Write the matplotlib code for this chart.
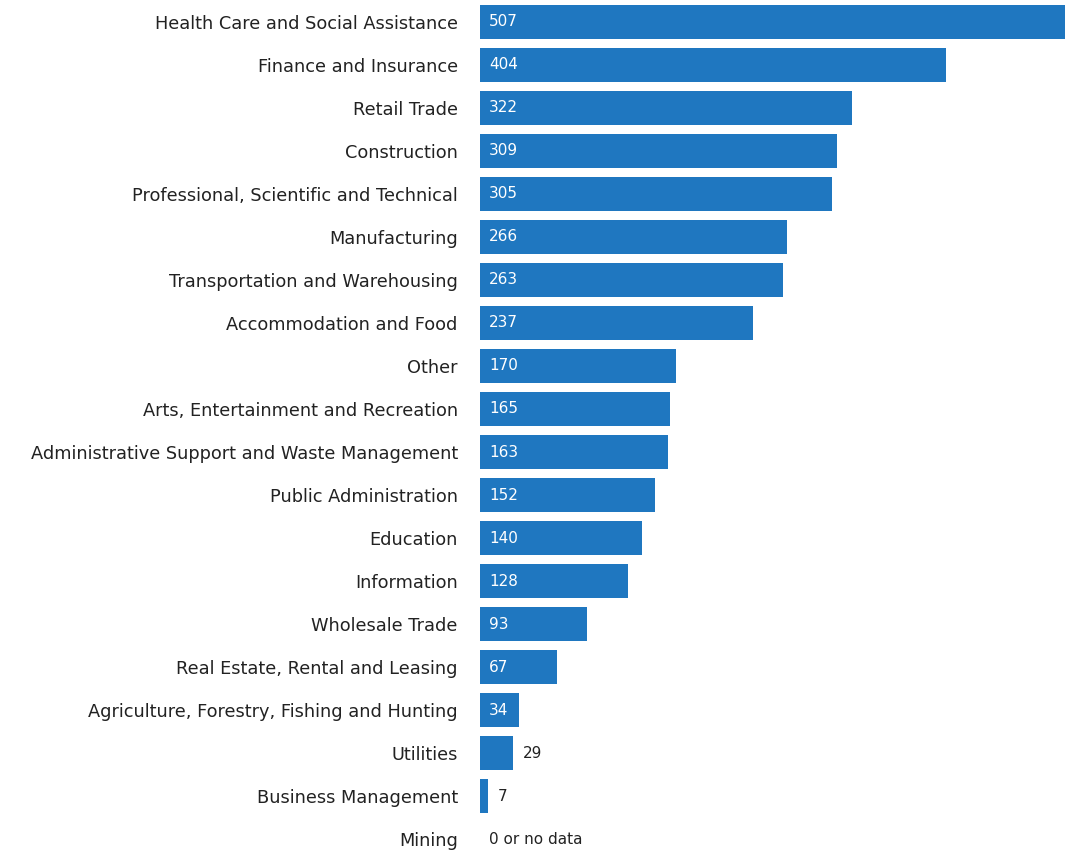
import matplotlib
matplotlib.use("Agg")
import matplotlib.pyplot as plt

categories = ["Health Care and Social Assistance", "Finance and Insurance", "Retail Trade",
              "Construction", "Professional, Scientific and Technical", "Manufacturing",
              "Transportation and Warehousing", "Accommodation and Food", "Other",
              "Arts, Entertainment and Recreation", "Administrative Support and Waste Management",
              "Public Administration", "Education", "Information", "Wholesale Trade",
              "Real Estate, Rental and Leasing", "Agriculture, Forestry, Fishing and Hunting",
              "Utilities", "Business Management", "Mining"]
values = [507, 404, 322, 309, 305, 266, 263, 237, 170, 165, 163, 152, 140, 128, 93, 67, 34, 29, 7, 0]

fig = plt.figure(figsize=(10.74, 8.5), dpi=100)
ax = fig.add_axes([480 / 1074, -11 / 850, 585 / 1074, 861 / 850])
ypos = list(range(len(categories)))
ax.barh(ypos, values, height=0.79, color="#1f77c0")
ax.set_xlim(0, 507)
ax.set_ylim(len(categories) - 0.5, -0.5)
ax.set_yticks(ypos)
ax.set_yticklabels(categories, fontsize=12.8, color="#222222")
ax.tick_params(axis="y", length=0, pad=16)
ax.set_xticks([])
for s in ax.spines.values():
    s.set_visible(False)

for y, v in zip(ypos, values):
    if v == 0:
        ax.text(8, y, "0 or no data", va="center", ha="left", fontsize=11, color="#222222")
    elif v >= 34:
        ax.text(8, y, str(v), va="center", ha="left", fontsize=11, color="white")
    else:
        ax.text(v + 8, y, str(v), va="center", ha="left", fontsize=11, color="#222222")

fig.savefig("out.png", dpi=100)
